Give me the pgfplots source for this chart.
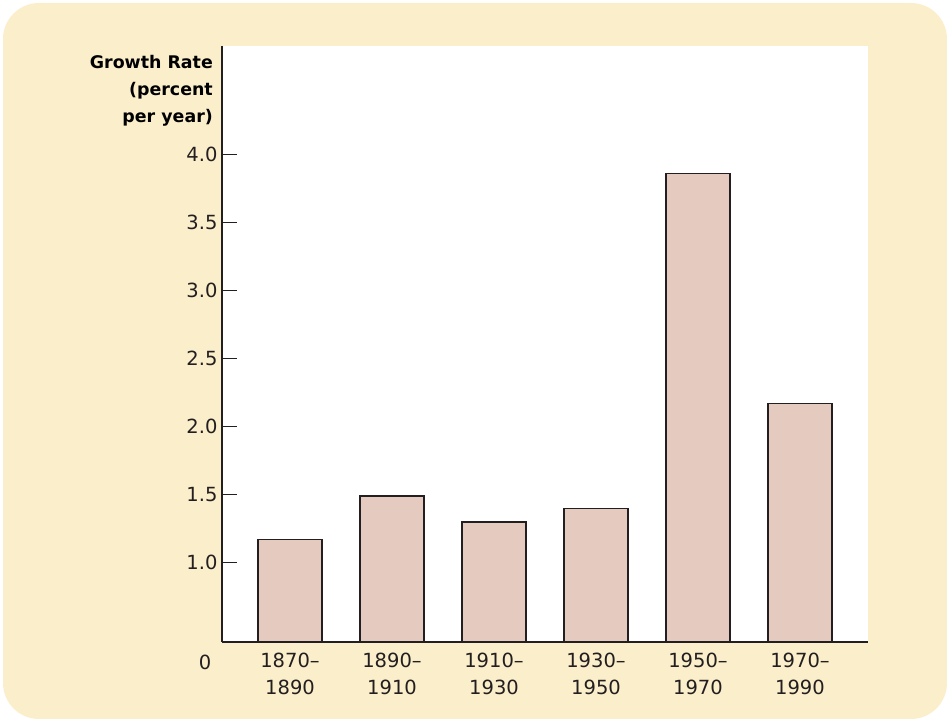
\documentclass[border=0pt]{standalone}
\usepackage{pgfplots}
\pgfplotsset{compat=1.18}
\usepackage{fontspec}
\setmainfont{DejaVu Sans}
\definecolor{panel}{RGB}{251,238,202}
\definecolor{barfill}{RGB}{229,202,192}
\definecolor{ink}{RGB}{35,31,32}
\begin{document}
\begin{tikzpicture}[x=1pt,y=1pt]
\path (0,0) rectangle (947,719);
\fill[panel, rounded corners=36pt] (3,0) rectangle (947,716);
\begin{axis}[
  at={(222pt,77pt)}, anchor=south west,
  scale only axis, width=645.5pt, height=596pt,
  xmin=-0.667, xmax=5.662, ymin=0.417, ymax=4.80,
  axis background/.style={fill=white},
  axis lines*=left,
  axis line style={ink, line width=1.3pt},
  ytick={1,1.5,2,2.5,3,3.5,4},
  tick align=inside,
  major tick length=15pt,
  ytick style={ink, line width=1.3pt},
  xtick={0,1,2,3,4,5},
  xtick style={draw=none},
  xticklabels={{1870--\\1890},{1890--\\1910},{1910--\\1930},{1930--\\1950},{1950--\\1970},{1970--\\1990}},
  xticklabel style={align=center, font=\fontsize{19.5}{27}\selectfont, text=ink, yshift=-7pt},
  yticklabel style={font=\fontsize{19.5}{22}\selectfont, text=ink, xshift=-1pt},
  /pgf/number format/.cd, fixed, fixed zerofill, precision=1, assume math mode=true,
]
\addplot[ybar, bar width=64pt, fill=barfill, draw=ink, line width=1.2pt]
  coordinates {(0,1.17) (1,1.49) (2,1.30) (3,1.40) (4,3.86) (5,2.17)};
\end{axis}
\node[font=\fontsize{19.5}{22}\selectfont, text=ink] at (205,57) {0};
\begin{scope}[every node/.style={font=\bfseries\fontsize{17.4}{22}\selectfont, anchor=base east, inner sep=0pt}]
\node at (213,650.7) {Growth Rate};
\node at (213,623.7) {(percent};
\node at (213,596.7) {per year)};
\end{scope}
\end{tikzpicture}
\end{document}
